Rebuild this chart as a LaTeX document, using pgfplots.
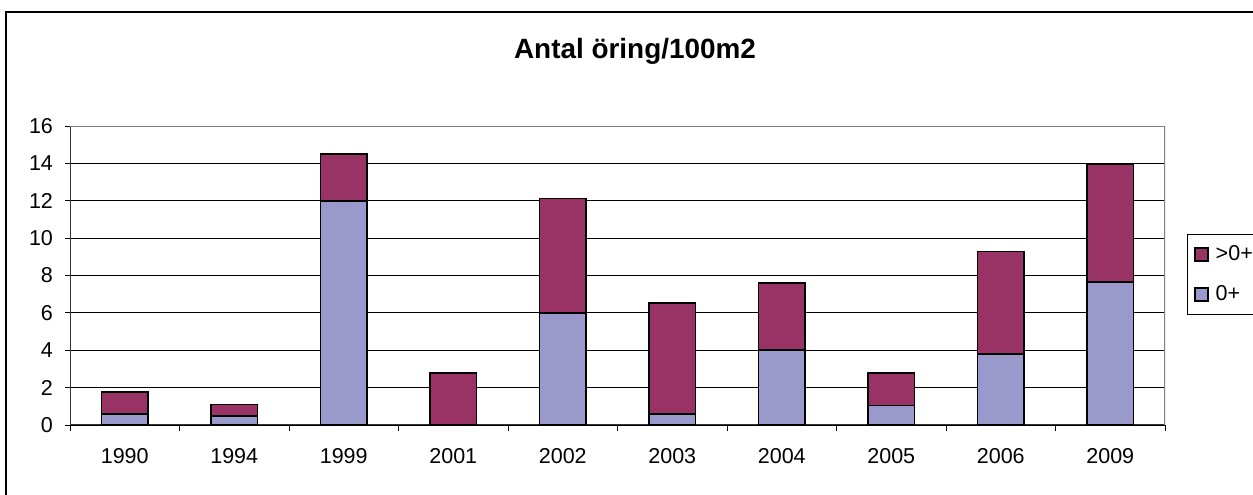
\documentclass[border=0pt]{standalone}
\usepackage{pgfplots}
\pgfplotsset{compat=1.18}
\usepackage{fontspec}
\setmainfont{Liberation Sans}
\definecolor{zeroplus}{RGB}{153,153,204}
\definecolor{olderplus}{RGB}{153,51,102}
\begin{document}
\begin{tikzpicture}
\useasboundingbox (0,0) rectangle (626.5bp,247.5bp);
\draw[black, line width=0.8bp] (3bp,-10bp) rectangle (640bp,241.5bp);
\node[font=\bfseries\fontsize{14}{16}\selectfont] at (317.5bp,222bp) {Antal öring/100m2};
\begin{axis}[
  at={(35bp,35bp)}, anchor=south west,
  scale only axis, width=547.5bp, height=149.5bp,
  ybar stacked, bar width=23.3bp,
  xmin=-0.5, xmax=9.5, ymin=0, ymax=16,
  xtick={0,...,9},
  xticklabels={1990,1994,1999,2001,2002,2003,2004,2005,2006,2009},
  minor xtick={-0.5,0.5,...,9.5},
  ytick={0,2,...,16},
  xtick pos=bottom, ytick pos=left,
  ymajorgrids,
  major grid style={black, line width=0.5bp},
  tick align=outside,
  major tick length=2.5bp, minor tick length=3bp,
  tick style={black, line width=0.5bp},
  major x tick style={draw=none},
  axis line style={draw=none},
  /pgf/number format/assume math mode=true,
  ticklabel style={font=\fontsize{10.8}{13}\selectfont},
  xticklabel style={yshift=-5.5bp},
  yticklabel style={xshift=-2.5bp},
  legend style={at={(axis description cs:1.0201,0.639)}, anchor=north west,
    draw=black, line width=0.5bp, inner xsep=3.3bp, inner ysep=3bp,
    row sep=6bp, column sep=1bp, font=\fontsize{10.8}{13}\selectfont,
    nodes={inner sep=2.5bp}},
  legend cell align=left,
  reverse legend,
  legend image code/.code={\draw[#1, line width=0.8bp] (0bp,-3.25bp) rectangle (6.5bp,3.25bp);},
]
\addplot[fill=zeroplus, draw=black, line width=0.85bp] coordinates {
  (0,0.6) (1,0.5) (2,12.0) (3,0) (4,6.0) (5,0.6) (6,4.03) (7,1.05) (8,3.8) (9,7.66)};
\addlegendentry{0+}
\addplot[fill=olderplus, draw=black, line width=0.85bp] coordinates {
  (0,1.15) (1,0.6) (2,2.5) (3,2.78) (4,6.12) (5,5.94) (6,3.55) (7,1.73) (8,5.49) (9,6.3)};
\addlegendentry{>0+}
\draw[gray, line width=0.8bp] (rel axis cs:0,1) -- (rel axis cs:1,1) -- (rel axis cs:1,0);
\draw[black!80, line width=0.6bp] (rel axis cs:0,1) -- (rel axis cs:0,0) -- (rel axis cs:1,0);
\end{axis}
\end{tikzpicture}
\end{document}
